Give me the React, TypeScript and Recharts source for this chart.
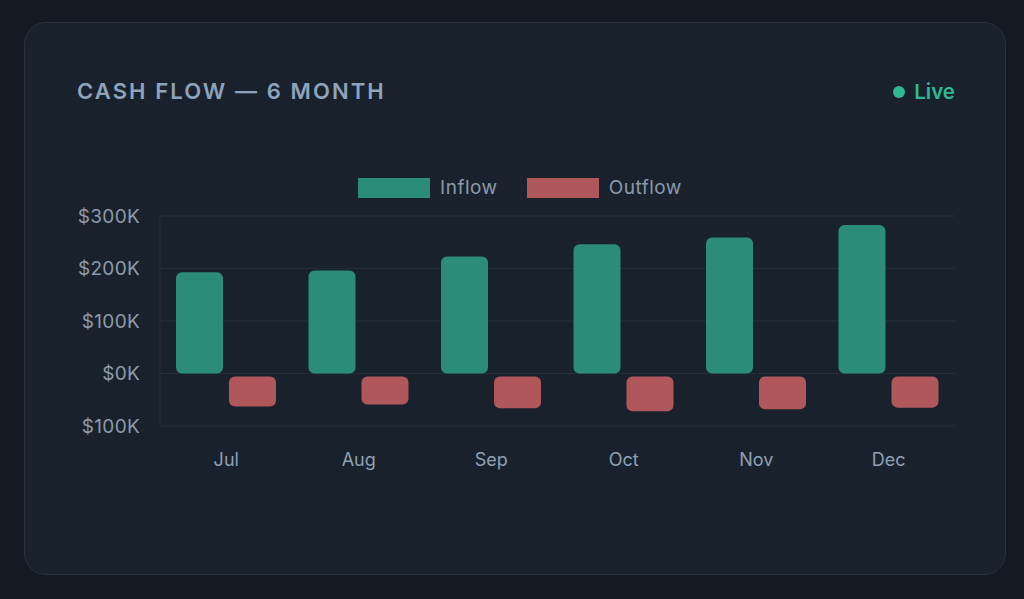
import React from 'react'
import { BarChart, Bar, XAxis, YAxis, CartesianGrid, Legend, Rectangle } from 'recharts'

const months = ['Jul', 'Aug', 'Sep', 'Oct', 'Nov', 'Dec']
const inflow = [193000, 196000, 223000, 246000, 259000, 283000]
const outflow = [-63000, -59000, -66000, -72000, -68000, -65000]
const yTicks = [-100000, 0, 100000, 200000, 300000]

const data = months.map((m, i) => ({ month: m, inflow: inflow[i], outflow: outflow[i] }))

const INFLOW = '#2a8c79'
const OUTFLOW = '#b0575b'
const FONT = 'Inter, "Noto Sans", sans-serif'

const fmt = (v: number) => `$${Math.abs(v) / 1000}K`

// outflow bars sit a few px below the zero line
function OutflowShape(props: any) {
  const { x, y, width, height, fill } = props
  const top = Math.min(y, y + height) + 3
  const bottom = Math.max(y, y + height)
  return <Rectangle x={x} y={top} width={width} height={Math.max(bottom - top, 0)} fill={fill} radius={6} />
}

function LegendBox() {
  const items = [
    { name: 'Inflow', color: INFLOW },
    { name: 'Outflow', color: OUTFLOW },
  ]
  return (
    <div style={{ height: 50, display: 'flex', justifyContent: 'center', alignItems: 'flex-start', paddingTop: 10, paddingLeft: 8, boxSizing: 'border-box', gap: 29 }}>
      {items.map((it) => (
        <div key={it.name} style={{ display: 'flex', alignItems: 'center', gap: 10 }}>
          <div style={{ width: 72, height: 20, background: it.color }} />
          <span style={{ color: '#8a9aab', fontSize: 19, letterSpacing: 0.5, fontFamily: FONT }}>{it.name}</span>
        </div>
      ))}
    </div>
  )
}

export default function App() {
  return (
    <div style={{ position: 'fixed', left: 0, top: 0, width: 1024, height: 599, background: '#131a24', fontFamily: FONT }}>
      <div style={{ position: 'absolute', left: 24, top: 22, width: 980, height: 551, background: '#19222c', border: '1px solid #27323d', borderRadius: 22 }}>
        <div style={{ position: 'absolute', left: 52, top: 55, color: '#8fa3bb', fontSize: 22, fontWeight: 600, letterSpacing: 2.1 }}>
          CASH FLOW — 6 MONTH
        </div>
        <div style={{ position: 'absolute', right: 50, top: 56, color: '#2eb893', fontSize: 20.5, fontWeight: 600, display: 'flex', alignItems: 'center', gap: 9 }}>
          <span style={{ width: 12, height: 12, borderRadius: '50%', background: '#2eb893', display: 'inline-block' }} />
          Live
        </div>
        <div style={{ position: 'absolute', left: 52, top: 143 }}>
          <BarChart width={878} height={320} data={data} margin={{ top: 0, right: 0, bottom: 0, left: 0 }} barGap={6} barCategoryGap={16}>
            <CartesianGrid stroke="#243039" vertical={false} />
            <Legend verticalAlign="top" content={() => <LegendBox />} />
            <XAxis dataKey="month" axisLine={false} tickLine={false} tickSize={0} tickMargin={27} height={60}
              tick={{ fill: '#8fa0b3', fontSize: 18, fontFamily: FONT }} />
            <YAxis domain={[-100000, 300000]} ticks={yTicks} tickFormatter={fmt} width={83}
              axisLine={{ stroke: '#222c36' }} tickLine={false} tickSize={0} tickMargin={20}
              tick={{ fill: '#8d9bab', fontSize: 19, fontFamily: FONT, letterSpacing: 0.3 }} />
            <Bar dataKey="inflow" name="Inflow" fill={INFLOW} radius={6} isAnimationActive={false} />
            <Bar dataKey="outflow" name="Outflow" fill={OUTFLOW} shape={OutflowShape} isAnimationActive={false} />
          </BarChart>
        </div>
      </div>
    </div>
  )
}
